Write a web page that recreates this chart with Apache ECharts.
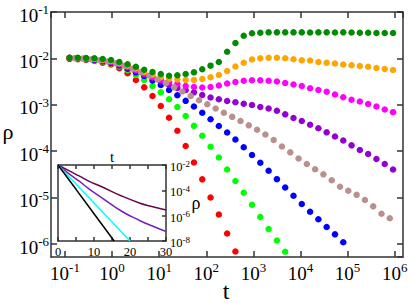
<!DOCTYPE html>
<html><head><meta charset="utf-8">
<script src="https://cdn.jsdelivr.net/npm/echarts@6/dist/echarts.min.js"></script>
<style>html,body{margin:0;padding:0;background:#fff}#c{width:409px;height:303px}</style>
</head><body><div id="c"></div>
<script>
// time grid of the main panel (dots are log-spaced)
const tMain = [0.125, 0.1875, 0.2813, 0.4219, 0.6328, 0.9492, 1.4238, 2.1357, 3.2036, 4.8054, 7.208, 10.812, 16.218, 24.327, 36.491, 54.736, 82.104, 123.16, 184.73, 277.1, 415.66, 623.48, 935.22, 1402.8, 2104.2, 3156.3, 4734.5, 7101.7, 10653, 15979, 23969, 35953, 53930, 80894, 121340, 182010, 273020, 409530, 614300, 921440];
const tBrown = [0.16, 0.24, 0.36, 0.54, 0.81, 1.215, 1.8225, 2.7338, 4.1006, 6.1509, 9.2264, 13.84, 20.759, 31.139, 46.709, 70.063, 105.09, 157.64, 236.46, 354.69, 532.04, 798.06, 1197.1, 1795.6, 2693.5, 4040.2, 6060.3, 9090.5, 13636, 20454, 30681, 46021, 69032, 103550, 155320, 232980, 349470, 524210, 786320];

// log10(rho)
const redLog = [-2.009,-2.019,-2.034,-2.056,-2.093,-2.131,-2.213,-2.321,-2.466,-2.623,-2.810,-3.026,-3.278,-3.560,-3.888,-4.244,-4.606,-4.998,-5.364,-5.774,-6.162];
const limeLog = [-1.998,-2.009,-2.024,-2.043,-2.071,-2.110,-2.175,-2.254,-2.358,-2.466,-2.595,-2.731,-2.881,-3.047,-3.241,-3.453,-3.666,-3.903,-4.136,-4.394,-4.642,-4.894,-5.153,-5.418,-5.677,-5.925,-6.168];
const blueLog = [-1.994,-2.002,-2.015,-2.032,-2.058,-2.095,-2.153,-2.224,-2.300,-2.379,-2.476,-2.573,-2.681,-2.793,-2.914,-3.037,-3.170,-3.310,-3.457,-3.597,-3.748,-3.914,-4.082,-4.248,-4.420,-4.603,-4.782,-4.959,-5.138,-5.304,-5.466,-5.634,-5.791,-5.963];
const brownLog = [-1.994,-2.004,-2.019,-2.041,-2.067,-2.106,-2.159,-2.224,-2.300,-2.375,-2.455,-2.534,-2.623,-2.713,-2.810,-2.901,-2.989,-3.080,-3.170,-3.259,-3.349,-3.442,-3.537,-3.640,-3.759,-3.899,-4.024,-4.157,-4.276,-4.390,-4.498,-4.627,-4.765,-4.851,-4.940,-5.052,-5.188,-5.347,-5.446];
const violetLog = [-1.991,-1.998,-2.009,-2.024,-2.047,-2.080,-2.134,-2.198,-2.267,-2.347,-2.422,-2.498,-2.573,-2.638,-2.681,-2.731,-2.789,-2.843,-2.881,-2.918,-2.946,-2.976,-3.004,-3.047,-3.080,-3.127,-3.205,-3.284,-3.349,-3.429,-3.506,-3.593,-3.683,-3.769,-3.873,-3.974,-4.060,-4.168,-4.276,-4.394];
const magentaLog = [-1.989,-1.996,-2.004,-2.017,-2.039,-2.069,-2.121,-2.181,-2.246,-2.325,-2.397,-2.459,-2.509,-2.552,-2.595,-2.616,-2.627,-2.616,-2.584,-2.541,-2.509,-2.481,-2.470,-2.470,-2.481,-2.498,-2.530,-2.563,-2.595,-2.644,-2.681,-2.718,-2.778,-2.836,-2.890,-2.929,-2.983,-3.037,-3.101,-3.159];
const orangeLog = [-1.987,-1.991,-1.998,-2.009,-2.028,-2.054,-2.103,-2.159,-2.218,-2.293,-2.353,-2.407,-2.444,-2.455,-2.466,-2.466,-2.444,-2.407,-2.358,-2.272,-2.175,-2.093,-2.024,-1.998,-1.985,-1.985,-1.996,-2.019,-2.039,-2.045,-2.078,-2.093,-2.110,-2.131,-2.147,-2.164,-2.181,-2.207,-2.228,-2.250];
const greenLog = [-1.985,-1.987,-1.991,-1.998,-2.013,-2.034,-2.078,-2.127,-2.179,-2.244,-2.293,-2.336,-2.373,-2.362,-2.336,-2.300,-2.235,-2.157,-2.078,-1.856,-1.668,-1.511,-1.459,-1.446,-1.438,-1.438,-1.438,-1.438,-1.438,-1.442,-1.438,-1.438,-1.442,-1.438,-1.442,-1.446,-1.446,-1.453,-1.453,-1.453];

// inset: linear t, log10(rho)
const insetMaroonT = [0, 3, 6, 8.4, 12, 17.7, 22.8, 25.5, 30];
const insetMaroonLog = [-2, -2.45, -2.88, -3.25, -3.7, -4.45, -5.02, -5.24, -5.55];
const insetIndigoT = [0, 3, 6, 8.4, 12, 17.7, 22.8, 25.5, 30];
const insetIndigoLog = [-2, -2.68, -3.3, -3.85, -4.55, -5.65, -6.4, -6.74, -7.25];
const insetCyanT = [0, 5, 10, 15, 20];
const insetCyanLog = [-2, -3.5, -5, -6.5, -8];
const insetBlackT = [0, 5, 10, 15.6];
const insetBlackLog = [-2, -3.92, -5.85, -8];

const FONT = 'Liberation Serif';
const frame = {color:'#333', width:1.5};
const expLabel = v => '{b|10}{s|' + Math.round(Math.log10(v)) + '}';
const mainRich = {
  b:{fontFamily:FONT,fontSize:19,lineHeight:24,color:'#000'},
  s:{fontFamily:FONT,fontSize:13,lineHeight:13,verticalAlign:'top',color:'#000'}
};
const insetRich = {
  b:{fontFamily:FONT,fontSize:12.5,lineHeight:16,color:'#000'},
  s:{fontFamily:FONT,fontSize:9,lineHeight:9,verticalAlign:'top',color:'#000'}
};
const pw = a => a.map(v => Math.pow(10, v));
const pairs = (xs, ys) => xs.map((x, i) => [x, ys[i]]);

const chart = echarts.init(document.getElementById('c'), null, {renderer:'svg'});
const mx = {min:0.0505, max:1.5e6};
const my = {min:5.25e-7, max:0.1};

const dotSeries = (name, t, lg, color) => ({
  name, type:'scatter', xAxisIndex:0, yAxisIndex:0, symbol:'circle', symbolSize:6.5,
  itemStyle:{color, opacity:1}, data:pairs(t, pw(lg)), silent:true
});
const lineSeries = (name, t, lg, color) => ({
  name, type:'line', xAxisIndex:2, yAxisIndex:2, showSymbol:false, smooth:true,
  lineStyle:{color, width:1.5}, data:pairs(t, pw(lg)), silent:true
});

chart.setOption({
  animation:false,
  backgroundColor:'#fff',
  grid:[
    {left:51, top:12, width:352, height:245, show:false, outerBoundsMode:'none'},
    {left:58, top:165, width:108, height:76, show:true, backgroundColor:'#fff', borderWidth:0, outerBoundsMode:'none'}
  ],
  xAxis:[
    {gridIndex:0, type:'log', logBase:10, min:mx.min, max:mx.max, position:'bottom',
     axisLine:{show:true, onZero:false, lineStyle:frame}, axisTick:{show:true, inside:true, length:6, lineStyle:frame},
     axisLabel:{formatter:expLabel, rich:mainRich, margin:4, showMinLabel:false, showMaxLabel:false},
     splitLine:{show:false}},
    {gridIndex:0, type:'log', logBase:10, min:mx.min, max:mx.max, position:'top',
     axisLine:{show:true, onZero:false, lineStyle:frame}, axisTick:{show:true, inside:true, length:6, lineStyle:frame},
     axisLabel:{show:false}, splitLine:{show:false}},
    {gridIndex:1, type:'value', min:0, max:30, interval:5, position:'bottom',
     axisLine:{show:true, onZero:false, lineStyle:frame}, axisTick:{show:true, inside:true, length:4, lineStyle:frame},
     axisLabel:{formatter:v => (v % 10 === 0 ? String(v) : ''), fontFamily:FONT, fontSize:12.5, color:'#000', margin:4},
     splitLine:{show:false}},
    {gridIndex:1, type:'value', min:0, max:30, interval:5, position:'top',
     axisLine:{show:true, onZero:false, lineStyle:frame}, axisTick:{show:true, inside:true, length:4, lineStyle:frame},
     axisLabel:{show:false}, splitLine:{show:false}}
  ],
  yAxis:[
    {gridIndex:0, type:'log', logBase:10, min:my.min, max:my.max, position:'left',
     axisLine:{show:true, onZero:false, lineStyle:frame}, axisTick:{show:true, inside:true, length:6, lineStyle:frame},
     axisLabel:{formatter:expLabel, rich:mainRich, margin:2, showMinLabel:false, padding:[6,0,0,0]},
     splitLine:{show:false}},
    {gridIndex:0, type:'log', logBase:10, min:my.min, max:my.max, position:'right',
     axisLine:{show:true, onZero:false, lineStyle:frame}, axisTick:{show:true, inside:true, length:6, lineStyle:frame},
     axisLabel:{show:false}, splitLine:{show:false}},
    {gridIndex:1, type:'log', logBase:10, min:1e-8, max:1e-2, interval:2, position:'right',
     axisLine:{show:true, onZero:false, lineStyle:frame}, axisTick:{show:true, inside:true, length:4, lineStyle:frame},
     axisLabel:{formatter:expLabel, rich:insetRich, margin:4, padding:[4,0,0,0]},
     splitLine:{show:false}},
    {gridIndex:1, type:'log', logBase:10, min:1e-8, max:1e-2, interval:2, position:'left',
     axisLine:{show:true, onZero:false, lineStyle:frame}, axisTick:{show:false},
     axisLabel:{show:false}, splitLine:{show:false}}
  ],
  graphic:[
    {type:'text', x:8, y:131, style:{text:'ρ', font:'22px "Liberation Serif"', fill:'#000', align:'center', verticalAlign:'middle'}},
    {type:'text', x:226, y:291, style:{text:'t', font:'24px "Liberation Serif"', fill:'#000', align:'center', verticalAlign:'middle'}},
    {type:'text', x:112, y:157, style:{text:'t', font:'15px "Liberation Serif"', fill:'#000', align:'center', verticalAlign:'middle'}},
    {type:'text', x:196, y:203, style:{text:'ρ', font:'18px "Liberation Serif"', fill:'#000', align:'center', verticalAlign:'middle'}}
  ],
  series:[
    dotSeries('red', tMain, redLog, '#ff0000'),
    dotSeries('lime', tMain, limeLog, '#00ff00'),
    dotSeries('blue', tMain, blueLog, '#0000ff'),
    dotSeries('violet', tMain, violetLog, '#9400d3'),
    dotSeries('magenta', tMain, magentaLog, '#ff00ff'),
    dotSeries('orange', tMain, orangeLog, '#ffa500'),
    dotSeries('brown', tBrown, brownLog, '#bc8f8f'),
    dotSeries('green', tMain, greenLog, '#008b00'),
    lineSeries('maroon', insetMaroonT, insetMaroonLog, '#670748'),
    lineSeries('indigo', insetIndigoT, insetIndigoLog, '#7221bc'),
    lineSeries('cyan', insetCyanT, insetCyanLog, '#00ffff'),
    lineSeries('black', insetBlackT, insetBlackLog, '#000000')
  ]
});
</script></body></html>
